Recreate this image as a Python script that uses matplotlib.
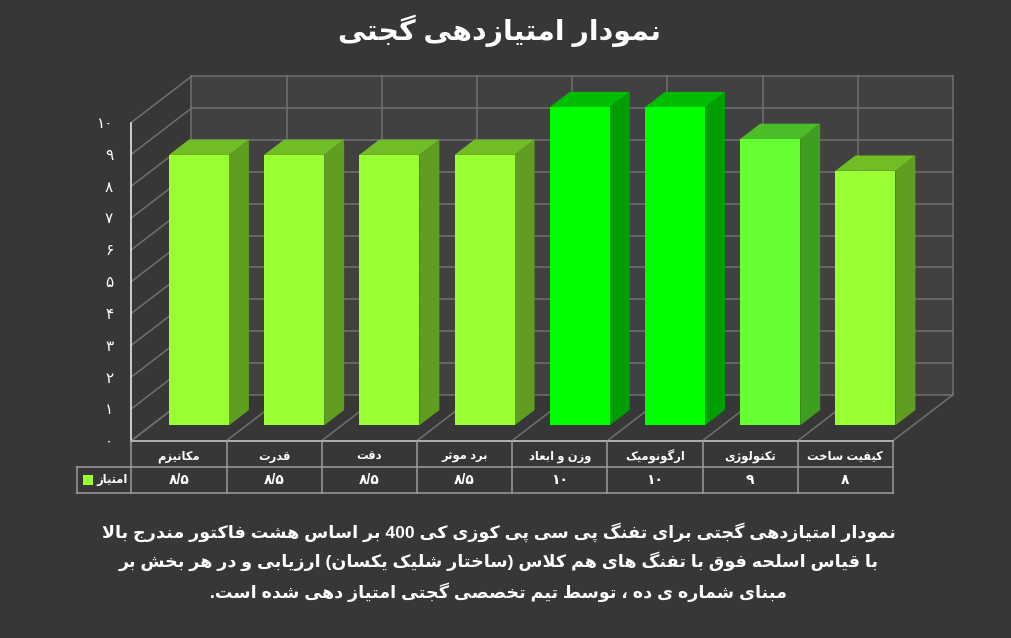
#!/usr/bin/env python3
"""Gadget score chart, drawn as an Excel style 3D column chart with a data table"""

import matplotlib
matplotlib.use('Agg')
import matplotlib.pyplot as plt
from matplotlib.colors import to_rgb
from matplotlib.patches import Polygon, Rectangle

TITLE = 'نمودار امتیازدهی گجتی'
SERIES_NAME = 'امتیاز'
categories = ['مکانیزم', 'قدرت', 'دقت', 'برد موثر', 'وزن و ابعاد', 'ارگونومیک', 'تکنولوژی', 'کیفیت ساخت']
scores = [8.5, 8.5, 8.5, 8.5, 10, 10, 9, 8]
bar_colors = ['#99FF33', '#99FF33', '#99FF33', '#99FF33', '#00FF00', '#00FF00', '#66FF33', '#99FF33']
y_ticks = [0, 1, 2, 3, 4, 5, 6, 7, 8, 9, 10]
footer_lines = [
    'نمودار امتیازدهی گجتی برای تفنگ پی سی پی کوزی کی 400 بر اساس هشت فاکتور مندرج بالا',
    'با قیاس اسلحه فوق با تفنگ های هم کلاس (ساختار شلیک یکسان) ارزیابی و در هر بخش بر',
    'مبنای شماره ی ده ، توسط تیم تخصصی گجتی امتیاز دهی شده است.',
]

BG = '#373737'
WALL = '#414141'
GRID = '#707070'
TABLE_LINE = '#9c9c9c'
FONT = ['Liberation Sans', 'DejaVu Sans']

# first presentation form code and number of forms (iso, final, init, medial)
FORMS = {
    'ا': (0xFE8D, 2), 'آ': (0xFE81, 2), 'ب': (0xFE8F, 4), 'پ': (0xFB56, 4), 'ت': (0xFE95, 4),
    'ث': (0xFE99, 4), 'ج': (0xFE9D, 4), 'چ': (0xFB7A, 4), 'ح': (0xFEA1, 4), 'خ': (0xFEA5, 4),
    'د': (0xFEA9, 2), 'ذ': (0xFEAB, 2), 'ر': (0xFEAD, 2), 'ز': (0xFEAF, 2), 'ژ': (0xFB8A, 2),
    'س': (0xFEB1, 4), 'ش': (0xFEB5, 4), 'ص': (0xFEB9, 4), 'ض': (0xFEBD, 4), 'ط': (0xFEC1, 4),
    'ظ': (0xFEC5, 4), 'ع': (0xFEC9, 4), 'غ': (0xFECD, 4), 'ف': (0xFED1, 4), 'ق': (0xFED5, 4),
    'ک': (0xFB8E, 4), 'گ': (0xFB92, 4), 'ل': (0xFEDD, 4), 'م': (0xFEE1, 4), 'ن': (0xFEE5, 4),
    'و': (0xFEED, 2), 'ه': (0xFEE9, 4), 'ی': (0xFBFC, 4),
}
PERSIAN_DIGITS = str.maketrans('0123456789.', '۰۱۲۳۴۵۶۷۸۹/')


def shape_fa(text):
    """Join letters and put the line in visual order, matplotlib does neither"""
    text = text.replace('لا', '\ufefb')
    out = []
    for i, ch in enumerate(text):
        prev_ch = text[i - 1] if i > 0 else ''
        next_ch = text[i + 1] if i + 1 < len(text) else ''
        joins_prev = prev_ch in FORMS and FORMS[prev_ch][1] == 4
        if ch == '\ufefb':
            out.append('\ufefc' if joins_prev else ch)
        elif ch in FORMS:
            start, n_forms = FORMS[ch]
            joins_next = n_forms == 4 and (next_ch in FORMS or next_ch == '\ufefb')
            out.append(chr(start + joins_prev + 2 * joins_next))
        else:
            out.append({'(': ')', ')': '('}.get(ch, ch))
    out.reverse()
    # latin digit runs stay left to right
    result, run = [], []
    for ch in out:
        if ch.isdigit():
            run.append(ch)
        else:
            result.extend(reversed(run))
            run = []
            result.append(ch)
    result.extend(reversed(run))
    return ''.join(result)


def fa_number(value):
    return f'{value:g}'.translate(PERSIAN_DIGITS)


def shade(color, factor):
    return tuple(c * factor for c in to_rgb(color))


plt.rcParams['font.family'] = FONT

fig = plt.figure(figsize=(10.11, 6.38), dpi=100, facecolor=BG)
# axes box is the front plane of the 3D chart
ax = fig.add_axes([131.3 / 1011, 1 - 440.7 / 638, (893 - 131.3) / 1011, (440.7 - 122.5) / 638])
ax.set_facecolor('none')
ax.set_xlim(0, len(categories))
ax.set_ylim(0, 10)
for spine in ax.spines.values():
    spine.set_visible(False)

DEPTH_X = 60 / 95.2   # full depth in category units
DEPTH_Y = 46 / 31.82  # full depth in value units
ROW_H = 26.3 / 31.82
BAR_W = 60 / 95.2


def proj(x, depth, value):
    """Oblique projection, depth goes from 0 (front) to 1 (back wall)"""
    return x + depth * DEPTH_X, value + depth * DEPTH_Y


def seg(p, q, color=GRID, lw=1.1, z=1):
    ax.plot([p[0], q[0]], [p[1], q[1]], color=color, lw=lw, clip_on=False,
            solid_capstyle='projecting', zorder=z)


def face(points, color, z=3):
    ax.add_patch(Polygon(points, closed=True, facecolor=color, edgecolor='none',
                         clip_on=False, zorder=z))


n = len(categories)

# back wall, then grid lines
face([proj(0, 1, 0), proj(n, 1, 0), proj(n, 1, 10), proj(0, 1, 10)], WALL, z=0)
for v in y_ticks:
    seg(proj(0, 1, v), proj(n, 1, v))
    seg(proj(0, 0, v), proj(0, 1, v))
for i in range(n + 1):
    seg(proj(i, 1, 0), proj(i, 1, 10))
    seg(proj(i, 0, 0), proj(i, 1, 0))

# bars
for i, (score, color) in enumerate(zip(scores, bar_colors)):
    x0 = i + (1 - BAR_W) / 2
    x1 = x0 + BAR_W
    d0, d1 = 1 / 3, 2 / 3
    face([proj(x1, d0, 0), proj(x1, d1, 0), proj(x1, d1, score), proj(x1, d0, score)], shade(color, 0.62))
    face([proj(x0, d0, score), proj(x1, d0, score), proj(x1, d1, score), proj(x0, d1, score)], shade(color, 0.74))
    face([proj(x0, d0, 0), proj(x1, d0, 0), proj(x1, d0, score), proj(x0, d0, score)], color, z=4)

# axis lines in front
seg((0, 0), (0, 10), color='#e6e6e6', lw=1.2, z=5)

ax.set_xticks([])
ax.set_yticks(y_ticks)
ax.set_yticklabels([fa_number(v) for v in y_ticks], color='white', fontsize=11)
ax.tick_params(axis='y', length=0, pad=13)

# data table
legend_x = -54 / 95.2
for row in (-ROW_H, -2 * ROW_H):
    seg((legend_x, row), (n, row), color=TABLE_LINE, z=5)
seg((0, 0), (n, 0), color='#c4c4c4', lw=1.2, z=5)
seg((legend_x, -ROW_H), (legend_x, -2 * ROW_H), color=TABLE_LINE, z=5)
for i in range(n + 1):
    seg((i, 0), (i, -2 * ROW_H), color=TABLE_LINE, z=5)
for i, (name, score) in enumerate(zip(categories, scores)):
    ax.text(i + 0.5, -0.5 * ROW_H - 0.1, shape_fa(name), color='white', fontsize=8.3, fontweight='bold',
            ha='center', va='center', clip_on=False)
    ax.text(i + 0.5, -1.5 * ROW_H, fa_number(score), color='white', fontsize=10, fontweight='bold',
            ha='center', va='center', clip_on=False)
ax.add_patch(Rectangle((legend_x + 6 / 95.2, -1.5 * ROW_H - 5 / 31.82), 10 / 95.2, 10 / 31.82,
                       facecolor=bar_colors[0], edgecolor='none', clip_on=False, zorder=5))
ax.text(-0.04, -1.5 * ROW_H, shape_fa(SERIES_NAME), color='white', fontsize=8.3, fontweight='bold',
        ha='right', va='center', clip_on=False)

fig.text(500 / 1011, 1 - 31 / 638, shape_fa(TITLE), color='white', fontsize=20.5, fontweight='bold',
         ha='center', va='center')
for line, y_px in zip(footer_lines, [532, 561, 592]):
    fig.text(499 / 1011, 1 - y_px / 638, shape_fa(line), color='white', fontsize=12.6, fontweight='bold',
             ha='center', va='center')

fig.savefig('out.png', dpi=100, facecolor=BG)
